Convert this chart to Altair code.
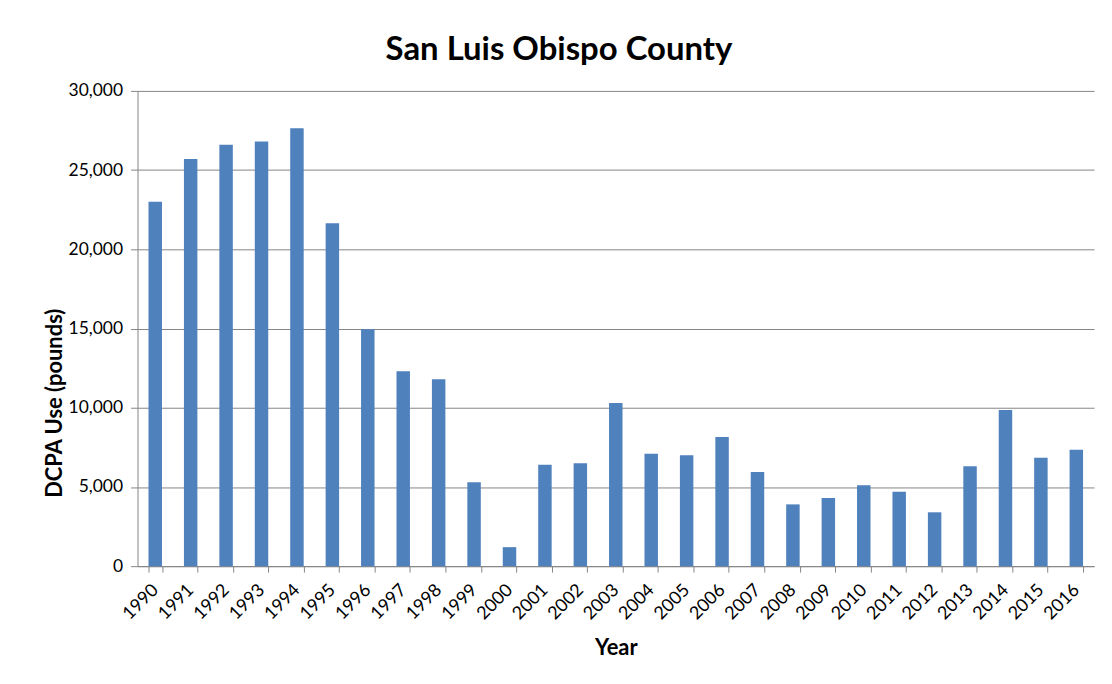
import altair as alt
import pandas as pd

years = [str(y) for y in range(1990, 2017)]
dcpa_pounds = [23000, 25700, 26600, 26800, 27650, 21650, 14950, 12300, 11800, 5300,
               1200, 6400, 6500, 10300, 7100, 7000, 8150, 5950, 3900, 4300,
               5100, 4700, 3400, 6300, 9850, 6850, 7350]

df = pd.DataFrame({"Year": years, "DCPA": dcpa_pounds})

FONT = "Lato"
GRAY = "#868686"

chart = alt.Chart(df).mark_bar(color="#4F81BD").encode(
    x=alt.X("Year:O",
            scale=alt.Scale(paddingInner=0.62, paddingOuter=0.31),
            axis=alt.Axis(title="Year", labelAngle=-45, labelAlign="right",
                          labelBaseline="middle", labelPadding=15, tickSize=6,
                          tickBand="extent", domainColor=GRAY, tickColor=GRAY,
                          labelFont=FONT, labelFontSize=18, labelColor="#000000",
                          titleFont=FONT, titleFontSize=22, titleFontWeight="bold",
                          titleColor="#000000", titleBaseline="alphabetic",
                          titleX=480, titleY=89, titleAlign="center")),
    y=alt.Y("DCPA:Q",
            scale=alt.Scale(domain=[0, 30000]),
            axis=alt.Axis(title="DCPA Use (pounds)", values=[0, 5000, 10000, 15000, 20000, 25000, 30000],
                          format=",.0f", tickSize=7, labelPadding=8,
                          domainColor=GRAY, tickColor=GRAY, gridColor=GRAY,
                          labelFont=FONT, labelFontSize=17.5, labelColor="#000000",
                          titleFont=FONT, titleFontSize=22, titleFontWeight="bold",
                          titleColor="#000000", titleAngle=-90, titleBaseline="alphabetic",
                          titleAlign="center", titleX=-76, titleY=313)),
).properties(
    width=960,
    height=477,
    autosize=alt.AutoSizeParams(type="none"),
    padding={"left": 130, "top": 82, "right": 10, "bottom": 100},
    title=alt.TitleParams("San Luis Obispo County", font=FONT, fontSize=33,
                          fontWeight="bold", color="#000000", anchor="middle",
                          baseline="alphabetic", offset=22, dx=-57, dy=33),
).configure_view(stroke="transparent")

chart.save("out.html", embed_options={"renderer": "svg", "actions": False})
